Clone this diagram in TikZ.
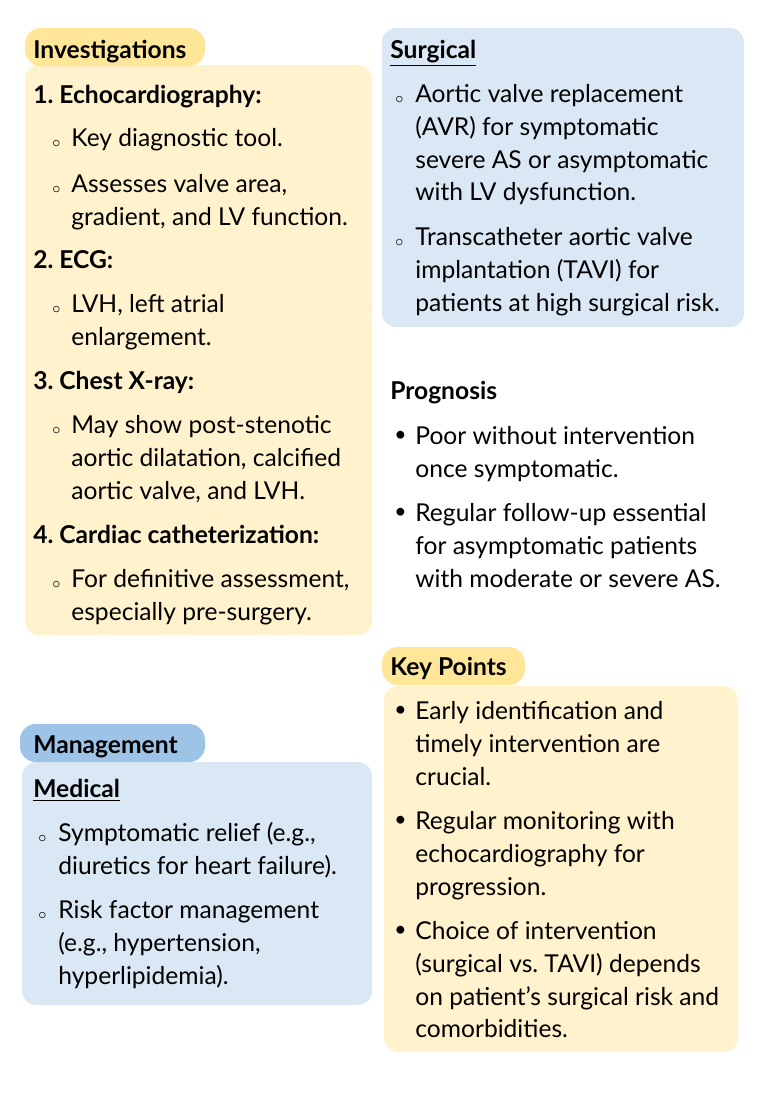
\documentclass[tikz,border=0pt]{standalone}
\usepackage{fontspec}
\setmainfont{Lato}
\frenchspacing
\definecolor{ypanel}{HTML}{FFF2CC}
\definecolor{ytag}{HTML}{FFE699}
\definecolor{bpanel}{HTML}{DAE8F5}
\definecolor{btag}{HTML}{9DC3E6}
\begin{document}
\begin{tikzpicture}[x=0.02cm,y=-0.02cm,
    txt/.style={anchor=north west,yshift=11.4pt,inner sep=0pt,align=left,font=\fontsize{14}{18.7}\selectfont},
    head/.style={txt,font=\fontsize{14}{18.7}\selectfont\bfseries},
    circ/.style={anchor=base west,inner sep=0pt,font=\fontsize{9}{10}\selectfont},
    dot/.style={anchor=base west,inner sep=0pt,font=\fontsize{12}{14}\selectfont},
    panel/.style={rounded corners=8pt},
    tag/.style={rounded corners=9pt}
    ]
    \useasboundingbox (0,0) rectangle (768,1109);
    % panels
    \fill[ypanel,panel] (25,65) rectangle (372,635);
    \fill[ytag,tag] (25,28) rectangle (205,66);
    \fill[bpanel,panel] (382,28) rectangle (744,327);
    \fill[ypanel,panel] (384,686) rectangle (738,1052);
    \fill[ytag,tag] (382,647) rectangle (525,685);
    \fill[bpanel,panel] (22,762) rectangle (372,1005);
    \fill[btag,tag] (20,724) rectangle (205,762);

    % investigations
    \node[head] (inv) at (33,55) {\strut Investigations};
    \node[head] (h1) at (33,100) {\strut 1. Echocardiography:};
    \node[circ] at (52,147) {$\circ$};
    \node[txt] (e1) at (71,143) {\strut Key diagnostic tool.};
    \node[circ] at (52,193) {$\circ$};
    \node[txt] (e2) at (71,189) {\strut Assesses valve area,\\gradient, and LV function.};
    \node[head] (h2) at (33,265) {\strut 2. ECG:};
    \node[circ] at (52,313) {$\circ$};
    \node[txt] (g1) at (71,309) {\strut LVH, left atrial\\enlargement.};
    \node[head] (h3) at (33,386) {\strut 3. Chest X-ray:};
    \node[circ] at (52,434) {$\circ$};
    \node[txt] (x1) at (71,430) {\strut May show post-stenotic\\aortic dilatation, calcified\\aortic valve, and LVH.};
    \node[head] (h4) at (33,540) {\strut 4. Cardiac catheterization:};
    \node[circ] at (52,588) {$\circ$};
    \node[txt] (c1) at (71,584) {\strut For definitive assessment,\\especially pre-surgery.};

    % surgical
    \node[head] (sur) at (390,55) {\strut\underline{Surgical}};
    \node[circ] at (395,103) {$\circ$};
    \node[txt] (s1) at (415,99) {\strut Aortic valve replacement\\(AVR) for symptomatic\\severe AS or asymptomatic\\with LV dysfunction.};
    \node[circ] at (395,246) {$\circ$};
    \node[txt] (s2) at (415,242) {\strut Transcatheter aortic valve\\implantation (TAVI) for\\patients at high surgical risk.};

    % prognosis
    \node[head] (pro) at (390,396) {\strut Prognosis};
    \node[dot] at (394,441) {\textbullet};
    \node[txt] (p1) at (415,441) {\strut Poor without intervention\\once symptomatic.};
    \node[dot] at (394,518) {\textbullet};
    \node[txt] (p2) at (415,518) {\strut Regular follow-up essential\\for asymptomatic patients\\with moderate or severe AS.};

    % key points
    \node[head] (key) at (390,672) {\strut Key Points};
    \node[dot] at (394,716) {\textbullet};
    \node[txt] (k1) at (415,716) {\strut Early identification and\\timely intervention are\\crucial.};
    \node[dot] at (394,826) {\textbullet};
    \node[txt] (k2) at (415,826) {\strut Regular monitoring with\\echocardiography for\\progression.};
    \node[dot] at (394,936) {\textbullet};
    \node[txt] (k3) at (415,936) {\strut Choice of intervention\\(surgical vs. TAVI) depends\\on patient’s surgical risk and\\comorbidities.};

    % management
    \node[head] (man) at (33,750) {\strut Management};
    \node[head] (med) at (33,794) {\strut\underline{Medical}};
    \node[circ] at (38,842) {$\circ$};
    \node[txt] (m1) at (58,838) {\strut Symptomatic relief (e.g.,\\diuretics for heart failure).};
    \node[circ] at (38,919) {$\circ$};
    \node[txt] (m2) at (58,915) {\strut Risk factor management\\(e.g., hypertension,\\hyperlipidemia).};
\end{tikzpicture}
\end{document}
